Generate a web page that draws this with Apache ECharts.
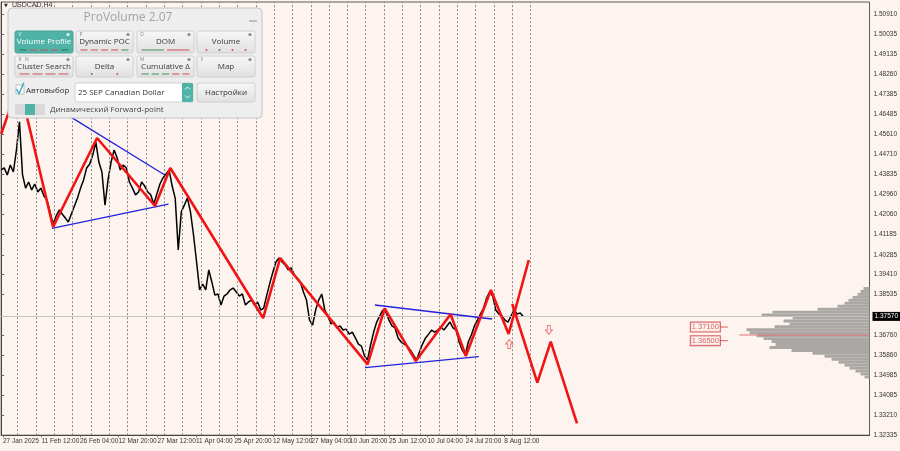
<!DOCTYPE html>
<html><head><meta charset="utf-8">
<script src="https://cdn.jsdelivr.net/npm/echarts@6/dist/echarts.min.js"></script>
<style>html,body{margin:0;padding:0;background:#fdf4ef}#c{width:900px;height:451px}</style>
</head><body><div id="c"></div>
<script>
// ---------- DATA ----------
const xLabelBars = [3, 66, 129, 192, 256, 319, 382, 445, 508, 571, 635, 698, 761, 824];
const xLabels = ['27 Jan 2025','11 Feb 12:00','26 Feb 04:00','12 Mar 20:00','27 Mar 12:00','11 Apr 04:00','25 Apr 20:00','12 May 12:00','27 May 04:00','10 Jun 20:00','25 Jun 12:00','10 Jul 04:00','24 Jul 20:00','8 Aug 12:00'];
const yTickValues = [1.50910,1.50035,1.49135,1.48260,1.47385,1.46485,1.45610,1.44710,1.43835,1.42960,1.42060,1.41185,1.40285,1.39410,1.38535,1.36760,1.35860,1.34985,1.34085,1.33210,1.32335];
const weekLineBars = [27,57,87,117,147,177,207,237,267,297,327,357,387,417,447,477,507,537,567,597,627,657,687,717,747,777,807,837,867];
const priceStep = 5; // H4 bars between samples
const closePrices = [
1.4403,1.4412,1.4381,1.4425,1.4394,1.4491,1.4615,1.4381,1.4323,1.4350,
1.4315,1.4341,1.4306,1.4323,1.4288,1.4271,1.4218,1.4165,1.4200,1.4226,
1.4209,1.4191,1.4173,1.4209,1.4244,1.4279,1.4323,1.4359,1.4412,1.4429,
1.4469,1.4526,1.4438,1.4394,1.4248,1.4359,1.4438,1.4491,1.4456,1.4403,
1.4425,1.4412,1.4350,1.4323,1.4293,1.4306,1.4350,1.4332,1.4306,1.4293,
1.4253,1.4297,1.4341,1.4368,1.4385,1.4403,1.4332,1.4279,1.4050,1.4218,
1.4248,1.4279,1.4218,1.4116,1.3997,1.3874,1.3900,1.3874,1.3962,1.3909,
1.3851,1.3856,1.3807,1.3847,1.3856,1.3874,1.3882,1.3865,1.3847,1.3856,
1.3807,1.3821,1.3829,1.3807,1.3821,1.3785,1.3794,1.3851,1.3904,1.3953,
1.3997,1.4015,1.3997,1.3984,1.3962,1.3971,1.3940,1.3926,1.3909,1.3865,
1.3829,1.3741,1.3719,1.3785,1.3829,1.3856,1.3785,1.3759,1.3724,1.3732,
1.3706,1.3715,1.3697,1.3701,1.3679,1.3688,1.3662,1.3635,1.3626,1.3582,
1.3565,1.3631,1.3688,1.3732,1.3759,1.3785,1.3776,1.3741,1.3715,1.3706,
1.3662,1.3644,1.3635,1.3626,1.3609,1.3587,1.3565,1.3600,1.3635,1.3662,
1.3679,1.3697,1.3688,1.3697,1.3710,1.3697,1.3715,1.3732,1.3706,1.3697,
1.3644,1.3609,1.3587,1.3644,1.3675,1.3715,1.3741,1.3768,1.3794,1.3838,
1.3865,1.3847,1.3785,1.3768,1.3759,1.3741,1.3732,1.3759,1.3785,1.3768,
1.3772,1.3757];
const zigzagMain = [[0,1.45617],[29,1.47866],[85,1.41514],[157,1.45440],[252,1.42440],[277,1.44117],[429,1.37499],[457,1.40146],[600,1.35457],[628,1.37927],[679,1.35602],[736,1.37663],[761,1.35823],[802,1.38735],[831,1.36793],[864,1.40058]];
const zigzagForecast = [[837,1.38117],[878,1.34645],[900,1.36454],[943,1.32854]];
const blueUpper1 = [[97,1.46649],[268,1.43808]];
const blueLower1 = [[83,1.41457],[274,1.42528]];
const blueUpper2 = [[612,1.38073],[804,1.37455]];
const blueLower2 = [[596,1.35307],[782,1.35792]];
const arrowUp = [[832,1.36352]];
const arrowDown = [[897,1.36970]];
const currentPrice = 1.37570;
const levelPrices = [1.37100, 1.36500];
const levelBar = 1177;
const pocLine = [[1209,1.3675],[1422,1.3675]];
const profileStep = 0.0013;
const profilePrices = [1.3880,1.3867,1.3854,1.3841,1.3828,1.3815,1.3802,1.3789,1.3776,1.3763,1.3750,1.3737,1.3724,1.3711,1.3698,1.3685,1.3672,1.3659,1.3646,1.3633,1.3620,1.3607,1.3594,1.3581,1.3568,1.3555,1.3542,1.3529,1.3516,1.3503,1.3490];
const profileVolumes = [6,9,12,17,21,25,32,52,97,108,77,86,80,95,123,120,113,106,98,94,100,78,57,45,38,31,25,20,14,9,5];

// ---------- CHART ----------
const chart = echarts.init(document.getElementById('c'), null, {renderer:'canvas'});
const bg = '#fdf4ef';
const red = '#f21414';
const blue = '#2222dd';
const teal = '#4fb3a7';
const axisFont = 'Liberation Sans';

function lineSeries(name, data, color, width, z){
  return {name, type:'line', data, showSymbol:false, symbol:'none', silent:true, z,
    lineStyle:{color, width}, animation:false};
}

const grad = () => new echarts.graphic.LinearGradient(0,0,0,1,[{offset:0,color:'#f7f7f7'},{offset:1,color:'#e0e0e0'}]);
function button(x,y,w,h,label,active,hot,marks){
  const els=[];
  els.push({type:'rect', shape:{x,y,width:w,height:h,r:2}, style:{fill: active?teal:grad(), stroke: active?'#46a396':'#d0d0d0', lineWidth:1}});
  els.push({type:'text', x:x+w/2, y:y+h/2, style:{text:label, fill: active?'#fff':'#3a3a3a', font:'8px "Open Sans"', align:'center', verticalAlign:'middle'}});
  hot.forEach((t,i)=>{
    els.push({type:'text', x:x+5+i*7, y:y+3.5, style:{text:t, fill:active?'#e8f7f5':'#8a8a8a', font:'5px "Open Sans"', align:'center', verticalAlign:'middle'}});
  });
  els.push({type:'circle', shape:{cx:x+w-5, cy:y+3.5, r:1.6}, style:{fill:active?'#e6f4f2':'#8a8a8a'}});
  const n = marks.length;
  if(n){
    const seg=(w-6)/n;
    marks.forEach((m,i)=>{
      const sx = x+3+i*seg;
      if(m[1]==='dot') els.push({type:'circle', shape:{cx:sx+seg/2, cy:y+h-3, r:1}, style:{fill:m[0]}});
      else els.push({type:'line', shape:{x1:sx+1.5, y1:y+h-3, x2:sx+seg-1.5, y2:y+h-3}, style:{stroke:m[0], lineWidth:1}});
    });
  }
  return els;
}
const dg='#3f8f5f', dr='#d05050';
const panel = [].concat(
  [{type:'rect', shape:{x:8,y:8,width:254,height:110,r:4}, style:{fill:'#efeeee', stroke:'#c4c4c4', lineWidth:1}},
   {type:'text', x:128, y:18, style:{text:'ProVolume 2.07', fill:'#a3a3a3', font:'12px "Open Sans"', align:'center', verticalAlign:'middle'}},
   {type:'line', shape:{x1:249,y1:21,x2:257,y2:21}, style:{stroke:'#a0a0a0', lineWidth:1.2}}],
  button(15,31,58,22,'Volume Profile',true,['V'],[['#2f6e4e'],[dr],[dr],[dr],['#2f6e4e']]),
  button(76,31,57,22,'Dynamic POC',false,['P'],[[dr],[dr],[dr],[dr],[dg]]),
  button(137,31,57,22,'DOM',false,['D'],[[dg],[dr]]),
  button(197,31,58,22,'Volume',false,[],[[dr,'dot'],[dg,'dot'],[dr,'dot'],[dr,'dot']]),
  button(15,56,58,21,'Cluster Search',false,['R','N'],[[dr],[dr],[dr],[dr]]),
  button(76,56,57,21,'Delta',false,[],[[dg,'dot'],[dr,'dot']]),
  button(137,56,57,21,'Cumulative Δ',false,['M'],[[dg],[dg],[dg],[dr],[dr]]),
  button(197,56,58,21,'Map',false,['F'],[]),
  [{type:'rect', shape:{x:16,y:85,width:8,height:9}, style:{fill:'#fff', stroke:'#bdbdbd'}},
   {type:'polyline', shape:{points:[[16.5,89],[19,93.5],[24,82.5]]}, style:{stroke:'#3aa6c4', lineWidth:1.4, fill:'none'}},
   {type:'text', x:26, y:91, style:{text:'Автовыбор', fill:'#333', font:'8px "Open Sans"', verticalAlign:'middle'}},
   {type:'rect', shape:{x:75,y:83,width:118,height:19,r:2}, style:{fill:'#fff', stroke:'#d0d0d0'}},
   {type:'text', x:78, y:92.5, style:{text:'25 SEP Canadian Dollar', fill:'#333', font:'8px "Open Sans"', verticalAlign:'middle'}},
   {type:'rect', shape:{x:182,y:83,width:11,height:19,r:1}, style:{fill:teal}},
   {type:'polyline', shape:{points:[[185,89.5],[187.5,87],[190,89.5]]}, style:{stroke:'#fff', lineWidth:0.9, fill:'none'}},
   {type:'polyline', shape:{points:[[185,95.5],[187.5,98],[190,95.5]]}, style:{stroke:'#fff', lineWidth:0.9, fill:'none'}},
   {type:'rect', shape:{x:197,y:83,width:58,height:19,r:2}, style:{fill:grad(), stroke:'#d0d0d0'}},
   {type:'text', x:226, y:92.5, style:{text:'Настройки', fill:'#333', font:'8px "Open Sans"', align:'center', verticalAlign:'middle'}},
   {type:'rect', shape:{x:15,y:104,width:30,height:11,r:2}, style:{fill:'#d9d9d9'}},
   {type:'rect', shape:{x:25,y:104,width:10,height:11}, style:{fill:teal}},
   {type:'text', x:50, y:109.5, style:{text:'Динамический Forward-point', fill:'#444', font:'8px "Open Sans"', verticalAlign:'middle'}}]
).map(e => Object.assign(e, {z:100, zlevel:1}));

const option = {
  backgroundColor: bg,
  animation: false,
  grid: {left:1, right:30, top:2, bottom:15.8, show:true, borderColor:'#5a5a5a', borderWidth:1, backgroundColor:'transparent'},
  xAxis: [
    {type:'value', min:0, max:1422, position:'bottom',
     axisLine:{show:true, lineStyle:{color:'#444'}},
     axisTick:{show:true, customValues:xLabelBars, length:2, lineStyle:{color:'#666'}},
     axisLabel:{customValues:xLabelBars, formatter:v=>xLabels[xLabelBars.indexOf(v)], align:'left', margin:3, color:'#333', fontSize:6.5, fontFamily:axisFont},
     splitLine:{show:false}},
    {type:'value', min:0, max:869, inverse:true, show:false}
  ],
  yAxis: [{type:'value', position:'right', min:1.3233, max:1.51439,
    axisLine:{show:true, lineStyle:{color:'#444'}},
    axisTick:{show:true, customValues:yTickValues, length:3, lineStyle:{color:'#666'}},
    axisLabel:{customValues:yTickValues, formatter:v=>v.toFixed(5), margin:4, color:'#333', fontSize:6.5, fontFamily:axisFont},
    splitLine:{show:false}}],
  graphic: [
    {type:'text', x:4, y:3, z:50, style:{text:'▼', fill:'#333', font:'5px "DejaVu Sans"'}},
    {type:'text', x:12, y:2, z:50, style:{text:'USDCAD,H4', fill:'#333', font:'7px "Liberation Sans"'}}
  ].concat(panel),
  series: [
    {type:'line', data:[], silent:true, z:1,
     markLine:{silent:true, symbol:['none','none'], animation:false, precision:5, label:{show:false},
       lineStyle:{color:'#8a8a8a', type:[2,2], width:1},
       data: weekLineBars.map(b=>({xAxis:b}))}},
    {type:'custom', xAxisIndex:1, yAxisIndex:0, silent:true, z:2,
     data: profilePrices.map((p,i)=>[profileVolumes[i], p]),
     renderItem:(params, api)=>{
       const v=api.value(0), p=api.value(1);
       const a=api.coord([0, p+profileStep/2]);
       const b=api.coord([v, p-profileStep/2]);
       return {type:'rect', shape:{x:b[0], y:a[1], width:a[0]-b[0], height:b[1]-a[1]}, style:{fill:'#aaa7a5'}};
     }},
    {type:'line', data:[], silent:true, z:3,
     markLine:{silent:true, symbol:['none','none'], animation:false, precision:5,
       lineStyle:{color:'#c6c2bf', type:'solid', width:1},
       label:{show:true, position:'end', distance:3, formatter:currentPrice.toFixed(5), backgroundColor:'#000', color:'#fff', fontSize:6.5, fontFamily:axisFont, padding:[1,2]},
       data:[{yAxis:currentPrice}]}},
    lineSeries('poc', pocLine, '#e07070', 1, 3),
    lineSeries('price', closePrices.map((p,i)=>[i*priceStep, p]), '#000', 1.5, 4),
    lineSeries('blueU1', blueUpper1, blue, 1.3, 5),
    lineSeries('blueL1', blueLower1, blue, 1.3, 5),
    lineSeries('blueU2', blueUpper2, blue, 1.3, 5),
    lineSeries('blueL2', blueLower2, blue, 1.3, 5),
    lineSeries('zigzag', zigzagMain, red, 2.6, 6),
    lineSeries('forecast', zigzagForecast, red, 2.6, 6),
    {type:'scatter', data:arrowUp, silent:true, z:7, symbol:'path://M5,0 L10,5 L7,5 L7,10 L3,10 L3,5 L0,5 Z', symbolSize:[7,9],
     itemStyle:{color:'rgba(0,0,0,0)', borderColor:'#e85a5a', borderWidth:1}},
    {type:'scatter', data:arrowDown, silent:true, z:7, symbol:'path://M3,0 L7,0 L7,5 L10,5 L5,10 L0,5 L3,5 Z', symbolSize:[7,9],
     itemStyle:{color:'rgba(0,0,0,0)', borderColor:'#e85a5a', borderWidth:1}},
    {type:'scatter', data:levelPrices.map(p=>[levelBar,p]), silent:true, z:7, symbol:'rect', symbolSize:[8,1], symbolOffset:[4,0],
     itemStyle:{color:'#d03a3a'},
     label:{show:true, position:'left', distance:0, formatter:p=>p.value[1].toFixed(5), color:'#d03a3a', borderColor:'#d03a3a', borderWidth:1, backgroundColor:'#fdf4ef', padding:[1,1,0,1], fontSize:7.5, fontFamily:axisFont}}
  ]
};
chart.setOption(option);
</script></body></html>
